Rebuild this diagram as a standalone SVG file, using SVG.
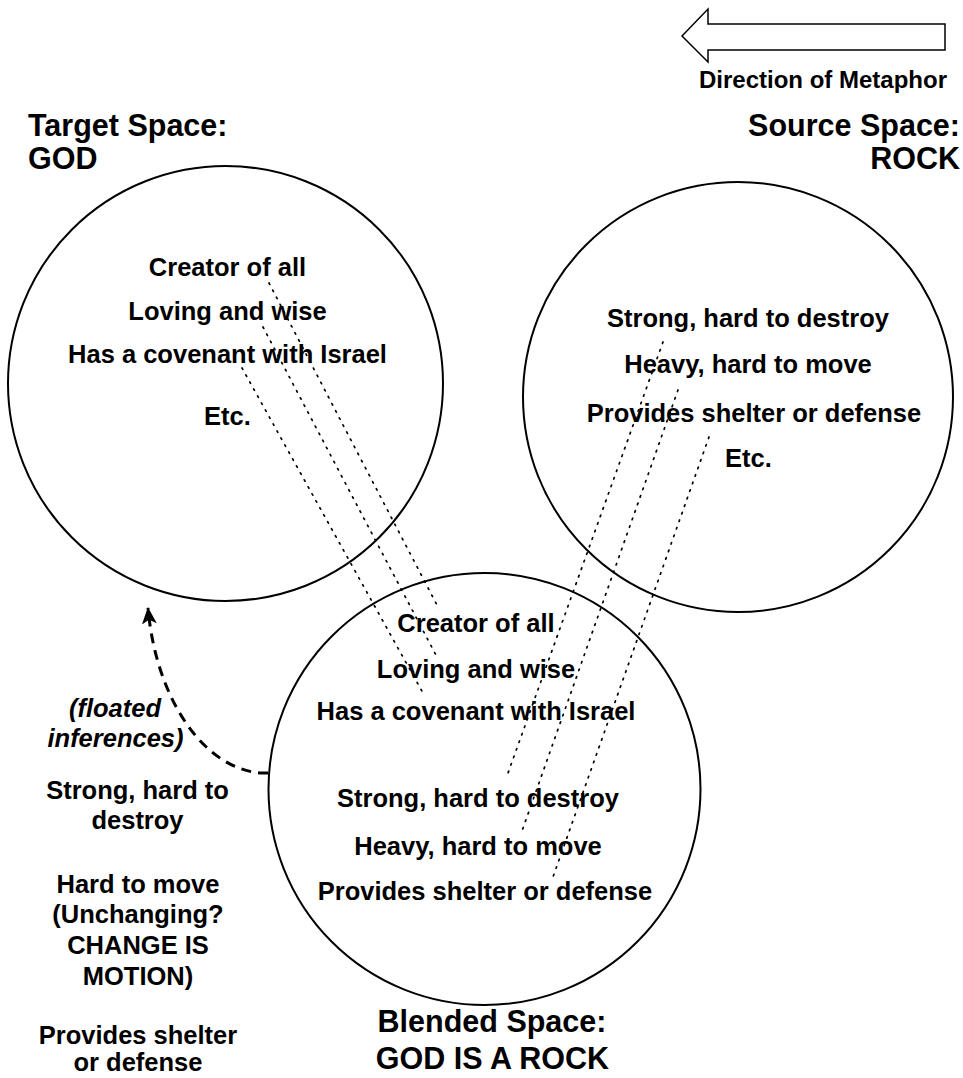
<svg xmlns="http://www.w3.org/2000/svg" width="963" height="1078" viewBox="0 0 963 1078">
<style>
text{font-family:"Liberation Sans",Arial,sans-serif;font-weight:bold;fill:#000}
.t{font-size:25.5px;text-anchor:middle}
.h{font-size:30.5px}
.i{font-style:italic}
.c{fill:none;stroke:#000;stroke-width:2}
.dot{fill:none;stroke:#000;stroke-width:1.7;stroke-dasharray:1.6 6.4;stroke-linecap:round}
</style>
<defs>
<marker id="ah" viewBox="0 0 16 16" refX="15" refY="8" markerWidth="17" markerHeight="17" markerUnits="userSpaceOnUse" orient="auto">
<path d="M0,1 L16,8 L0,15 L4,8 Z" fill="#000"/>
</marker>
</defs>
<rect width="963" height="1078" fill="#fff"/>
<g id="direction">
<polygon points="682,36 708,9 708,24 945,24 945,50 708,50 708,62" fill="#fff" stroke="#000" stroke-width="1.5"/>
<text x="823" y="88" style="font-size:24px;text-anchor:middle">Direction of Metaphor</text>
</g>
<g id="target">
<circle class="c" cx="225.5" cy="383.5" r="217.5"/>
<text class="h" x="28" y="136">Target Space:</text>
<text class="h" x="28" y="169">GOD</text>
<text class="t" x="227.5" y="276">Creator of all</text>
<text class="t" x="227.5" y="320">Loving and wise</text>
<text class="t" x="227.5" y="363">Has a covenant with Israel</text>
<text class="t" x="227.5" y="425">Etc.</text>
</g>
<g id="source">
<circle class="c" cx="738" cy="397" r="215"/>
<text class="h" x="960" y="136" style="text-anchor:end">Source Space:</text>
<text class="h" x="960" y="169" style="text-anchor:end">ROCK</text>
<text class="t" x="748" y="327">Strong, hard to destroy</text>
<text class="t" x="748" y="373">Heavy, hard to move</text>
<text class="t" x="754" y="422">Provides shelter or defense</text>
<text class="t" x="748.5" y="467">Etc.</text>
</g>
<g id="blended">
<circle class="c" cx="484.5" cy="789" r="216"/>
<text class="t" x="476" y="632">Creator of all</text>
<text class="t" x="476" y="678">Loving and wise</text>
<text class="t" x="476" y="720">Has a covenant with Israel</text>
<text class="t" x="478" y="807">Strong, hard to destroy</text>
<text class="t" x="478" y="855">Heavy, hard to move</text>
<text class="t" x="485" y="900">Provides shelter or defense</text>
<text class="h" x="492" y="1032" style="text-anchor:middle">Blended Space:</text>
<text class="h" x="492.5" y="1069" style="text-anchor:middle">GOD IS A ROCK</text>
</g>
<g id="inferences">
<text class="t i" x="115" y="717">(floated</text>
<text class="t i" x="115.5" y="747">inferences)</text>
<text class="t" x="137.5" y="799">Strong, hard to</text>
<text class="t" x="137.5" y="829">destroy</text>
<text class="t" x="138" y="893">Hard to move</text>
<text class="t" x="138" y="923">(Unchanging?</text>
<text class="t" x="138" y="954">CHANGE IS</text>
<text class="t" x="138" y="985">MOTION)</text>
<text class="t" x="138" y="1044">Provides shelter</text>
<text class="t" x="138" y="1071">or defense</text>
</g>
<g id="connectors">
<line class="dot" x1="269" y1="283" x2="438" y2="607"/>
<line class="dot" x1="263" y1="327" x2="437" y2="657"/>
<line class="dot" x1="242" y1="368" x2="423" y2="693"/>
<line class="dot" x1="663" y1="342" x2="508" y2="773"/>
<line class="dot" x1="678" y1="390" x2="522" y2="831"/>
<line class="dot" x1="709" y1="437" x2="553" y2="877"/>
<path d="M268,773 L262,773 C205,770 156,700 148,608" fill="none" stroke="#000" stroke-width="3" stroke-dasharray="10 7" marker-end="url(#ah)"/>
</g>
</svg>
